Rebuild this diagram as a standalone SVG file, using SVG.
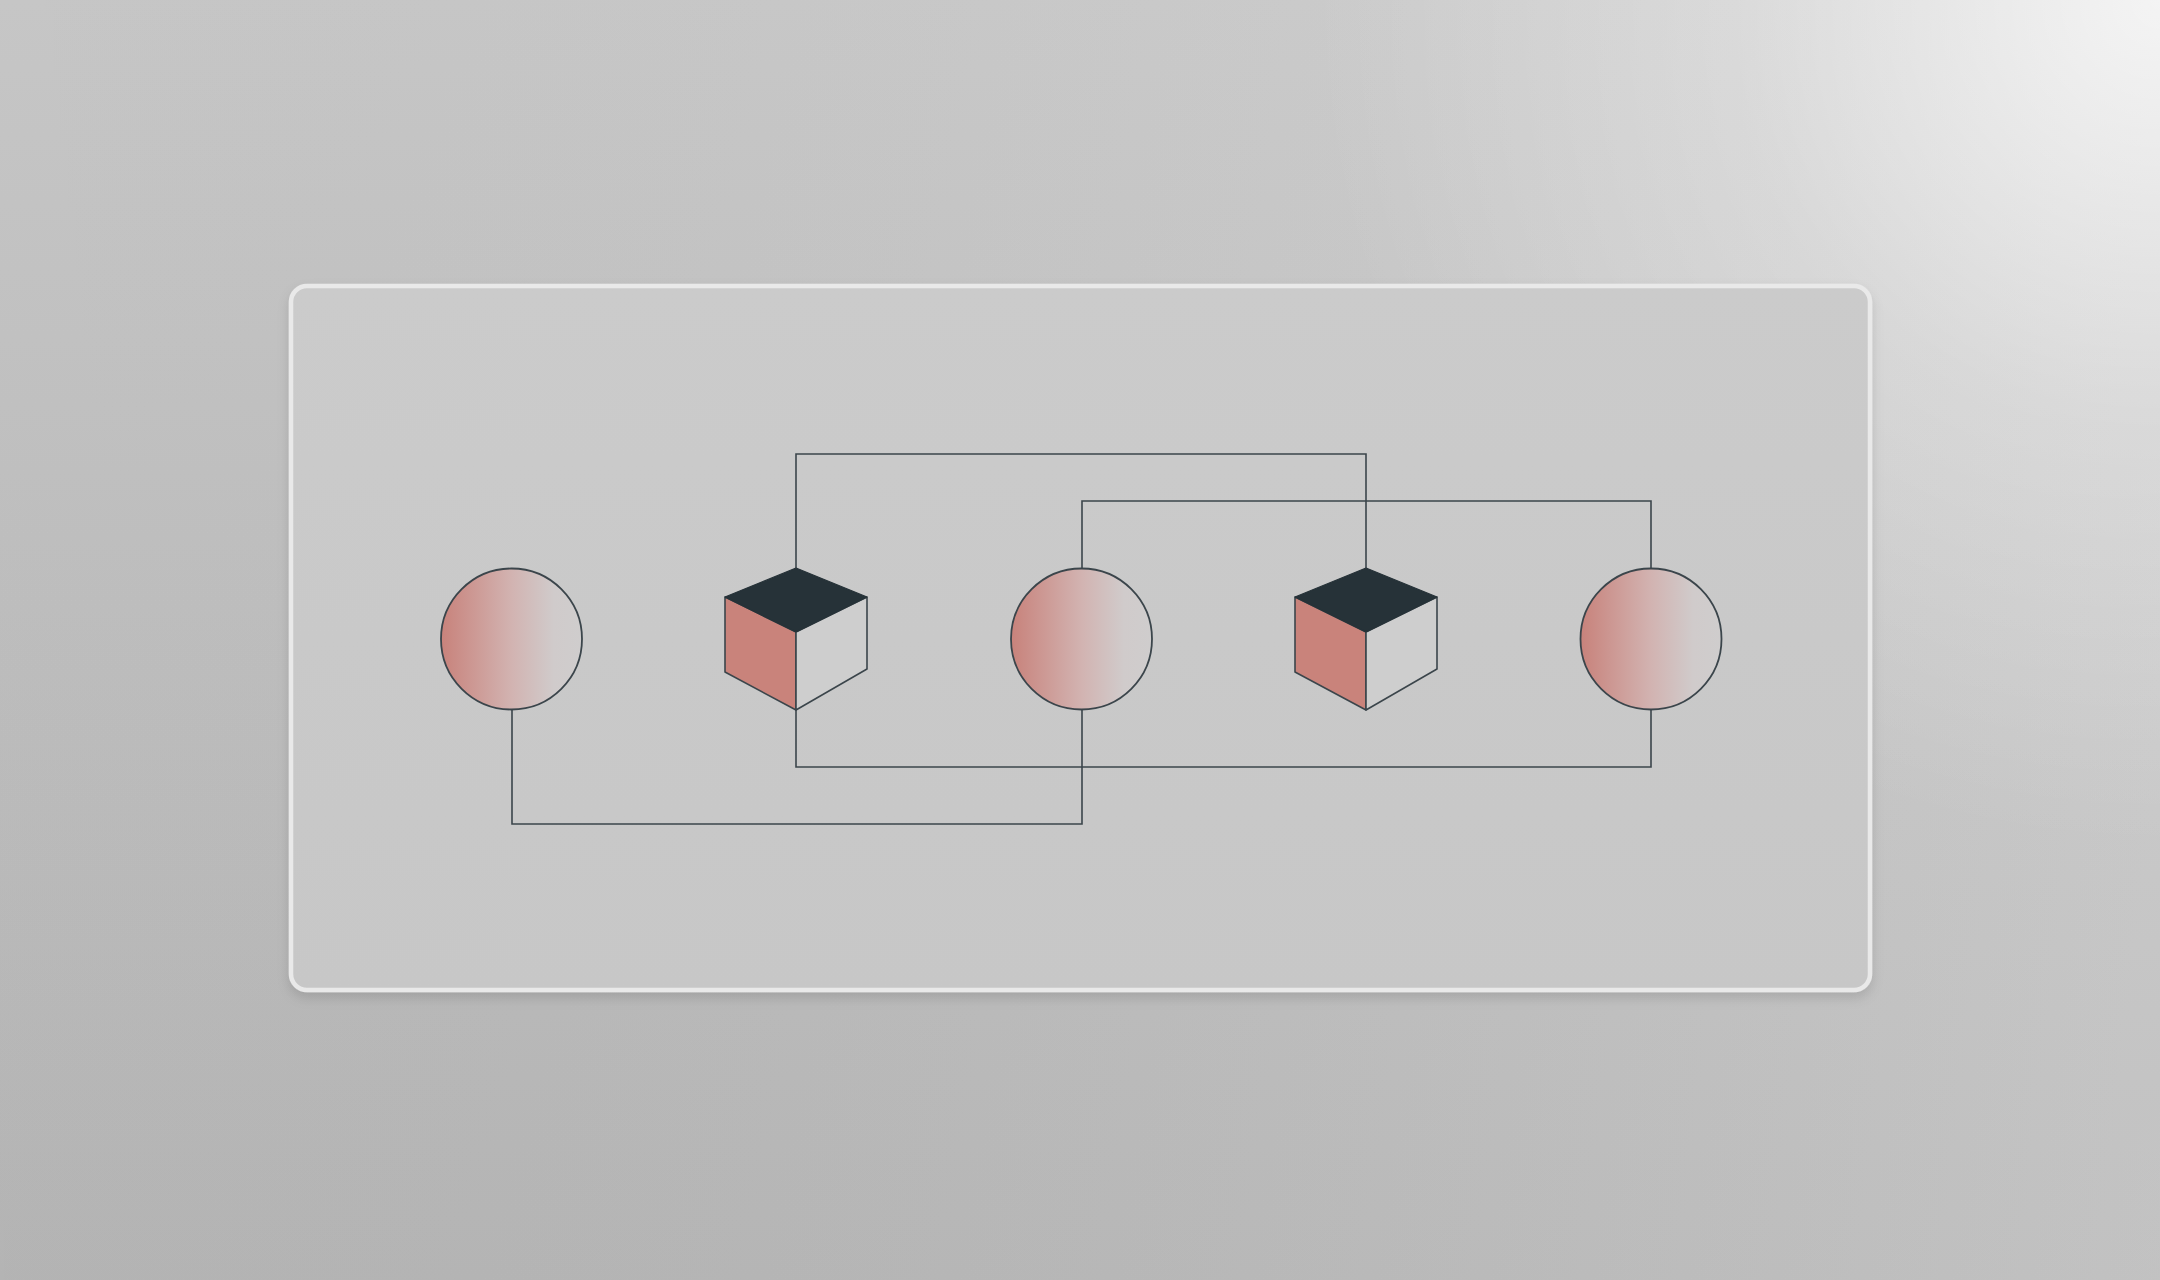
<svg xmlns="http://www.w3.org/2000/svg" width="2160" height="1280" viewBox="0 0 2160 1280">
  <defs>
    <linearGradient id="bgV" x1="0" y1="0" x2="0" y2="1">
      <stop offset="0" stop-color="#cecece"/>
      <stop offset="1" stop-color="#bbbbbb"/>
    </linearGradient>
    <linearGradient id="bgH" x1="0" y1="0" x2="1" y2="0">
      <stop offset="0" stop-color="#000" stop-opacity="0.04"/>
      <stop offset="1" stop-color="#fff" stop-opacity="0.1"/>
    </linearGradient>
    <radialGradient id="hl" gradientUnits="userSpaceOnUse" cx="2160" cy="0" r="850">
      <stop offset="0" stop-color="#ffffff" stop-opacity="0.75"/>
      <stop offset="0.5" stop-color="#ffffff" stop-opacity="0.25"/>
      <stop offset="1" stop-color="#ffffff" stop-opacity="0"/>
    </radialGradient>
    <linearGradient id="cardFill" x1="0" y1="0" x2="0" y2="1">
      <stop offset="0" stop-color="#cbcbcb"/>
      <stop offset="1" stop-color="#c7c7c7"/>
    </linearGradient>
    <linearGradient id="ball" x1="0" y1="0" x2="1" y2="0">
      <stop offset="0" stop-color="#c8827b"/>
      <stop offset="0.5" stop-color="#d2b3b1"/>
      <stop offset="0.8" stop-color="#d0cbcb"/>
      <stop offset="1" stop-color="#cfcdcd"/>
    </linearGradient>
    <filter id="shadow" x="-5%" y="-5%" width="110%" height="115%">
      <feDropShadow dx="0" dy="6" stdDeviation="6" flood-color="#000" flood-opacity="0.12"/>
    </filter>
  </defs>
  <style>
    .edge { fill: none; stroke: #3b454b; stroke-width: 1.6; }
    .ball { fill: url(#ball); stroke: #3b454b; stroke-width: 1.8; }
    .top { fill: #263238; stroke: #263238; stroke-width: 1.2; stroke-linejoin: round; }
    .left { fill: #c9837b; stroke: #3b454b; stroke-width: 1.6; stroke-linejoin: round; }
    .right { fill: #cecece; stroke: #3b454b; stroke-width: 1.6; stroke-linejoin: round; }
  </style>

  <rect width="2160" height="1280" fill="url(#bgV)"/>
  <rect width="2160" height="1280" fill="url(#bgH)"/>
  <rect width="2160" height="1280" fill="url(#hl)"/>

  <g id="card">
    <rect x="291" y="286" width="1579" height="704" rx="16" ry="16" fill="url(#cardFill)" stroke="#e9e9e9" stroke-width="4.5" filter="url(#shadow)"/>
  </g>

  <g id="connectors">
    <path class="edge" d="M796,568 V454 H1366 V568"/>
    <path class="edge" d="M1082,569 V501 H1651 V568"/>
    <path class="edge" d="M796,710 V767 H1651 V709"/>
    <path class="edge" d="M512,709 V824 H1082 V709"/>
  </g>

  <g id="node-circle-1">
    <circle class="ball" cx="511.5" cy="639" r="70.5"/>
  </g>

  <g id="node-cube-1">
    <polygon class="left" points="725,597 796,632 796,710 725,672"/>
    <polygon class="right" points="796,632 867,597 867,669 796,710"/>
    <polygon class="top" points="796,568 867,597 796,632 725,597"/>
  </g>

  <g id="node-circle-2">
    <circle class="ball" cx="1081.5" cy="639" r="70.5"/>
  </g>

  <g id="node-cube-2">
    <polygon class="left" points="1295,597 1366,632 1366,710 1295,672"/>
    <polygon class="right" points="1366,632 1437,597 1437,669 1366,710"/>
    <polygon class="top" points="1366,568 1437,597 1366,632 1295,597"/>
  </g>

  <g id="node-circle-3">
    <circle class="ball" cx="1651" cy="639" r="70.5"/>
  </g>
</svg>
